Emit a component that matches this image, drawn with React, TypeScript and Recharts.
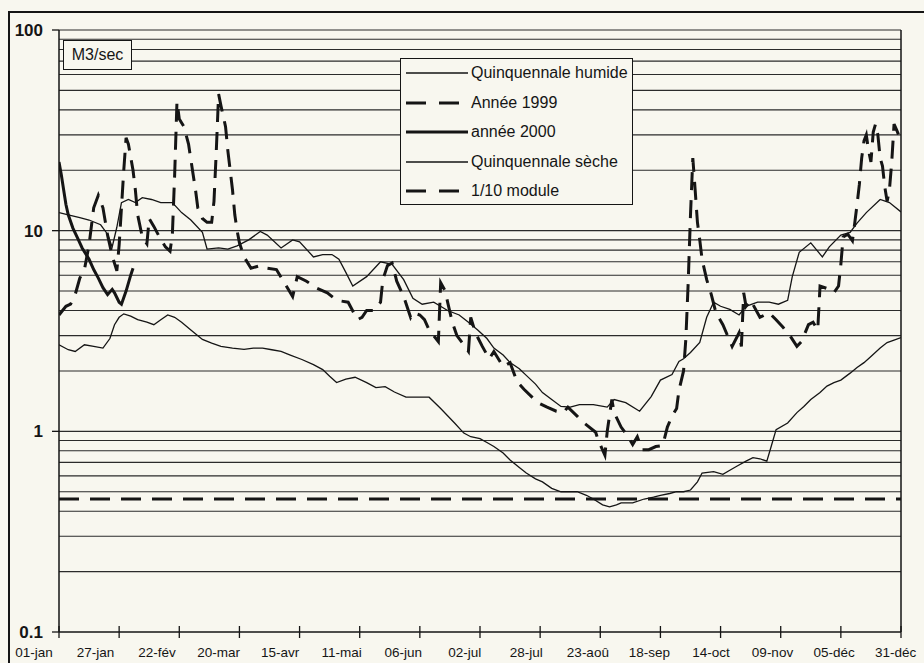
import React from 'react'
import { LineChart, Line, XAxis, YAxis, ReferenceLine } from 'recharts'

// day of year (0 = 01-jan) and discharge in m3/s
const HUMIDE: [number, number][] = [
  [0, 12.3], [4, 12], [9, 11.6], [13, 11.3], [18, 10.7], [21, 9.6], [23, 8.3], [25, 10.4],
  [27, 13.8], [30, 14.3], [33, 13.8], [36, 14.6], [40, 14.3], [44, 13.8], [49, 13.8], [53, 12.3],
  [57, 11.3], [62, 9.8], [64, 8.1], [69, 8.2], [73, 8.1], [77, 8.4], [82, 9.0], [87, 9.9],
  [90, 9.5], [96, 8.2], [101, 9.0], [104, 8.8], [110, 7.4], [114, 7.6], [118, 7.6], [121, 7.2],
  [124, 6.2], [127, 5.3], [133, 5.9], [139, 7.0], [144, 6.8], [149, 5.7], [153, 4.6], [157, 4.3],
  [162, 4.4], [168, 4.0], [173, 3.8], [177, 3.5], [181, 3.2], [185, 2.9], [188, 2.6], [192, 2.4],
  [195, 2.2], [199, 2.05], [202, 1.9], [206, 1.72], [209, 1.56], [213, 1.44], [217, 1.33],
  [221, 1.32], [225, 1.36], [231, 1.36], [237, 1.32], [240, 1.44], [245, 1.39], [251, 1.26],
  [256, 1.49], [260, 1.8], [265, 1.92], [268, 2.23], [270, 2.3], [273, 2.47], [277, 2.77],
  [280, 3.7], [283, 4.4], [286, 4.2], [290, 4.05], [294, 3.8], [297, 4.2], [302, 4.4], [307, 4.4],
  [311, 4.3], [315, 4.5], [317, 5.9], [320, 7.8], [325, 8.7], [330, 7.4], [333, 8.3], [338, 9.5],
  [342, 9.8], [345, 10.9], [349, 12.3], [355, 14.3], [359, 13.8], [364, 12.4],
]

const ANNEE_1999: [number, number][] = [
  [0, 3.8], [3, 4.2], [5, 4.3], [7, 4.8], [9, 5.8], [11, 6.4], [13, 8.5], [15, 13], [17, 15],
  [19, 13], [21, 9.5], [23, 7.5], [25, 6.3], [26, 8.5], [27, 13], [28, 20], [29, 29], [30, 27],
  [32, 20], [33, 16], [34, 12], [36, 9.3], [38, 8.6], [39, 11.5], [41, 10.5], [43, 9.5],
  [46, 8.3], [48, 7.9], [49, 9.5], [50, 19], [51, 44], [52, 36], [54, 33], [56, 27], [58, 19],
  [59, 16], [60, 13], [62, 11.5], [64, 11], [66, 11], [67, 14], [68, 25], [69, 48], [70, 42],
  [72, 33], [73, 25], [75, 16], [76, 12], [77, 10], [78, 8.7], [80, 7.4], [83, 6.5], [87, 6.7],
  [90, 6.5], [94, 6.4], [97, 5.6], [101, 4.7], [103, 5.9], [107, 5.6], [111, 5.2], [116, 4.9],
  [120, 4.5], [125, 4.4], [129, 3.6], [131, 3.7], [133, 4.0], [136, 4.0], [139, 4.4], [140, 5.7],
  [142, 6.7], [144, 6.9], [146, 5.6], [149, 4.7], [152, 3.7], [153, 3.9], [156, 3.8], [158, 3.6],
  [160, 3.2], [164, 2.8], [165, 5.5], [167, 5.0], [168, 4.4], [170, 3.5], [172, 3.0], [175, 2.7],
  [177, 2.5], [178, 3.7], [180, 3.1], [183, 2.65], [186, 2.3], [188, 2.5], [192, 2.1], [195, 2.2],
  [198, 1.77], [201, 1.62], [207, 1.39], [211, 1.32], [215, 1.26], [218, 1.24], [220, 1.32],
  [224, 1.19], [227, 1.1], [232, 0.99], [233, 0.91], [236, 0.76], [237, 1.0], [238, 1.2],
  [239, 1.44], [240, 1.24], [243, 1.05], [246, 0.94], [248, 0.86], [250, 0.94], [252, 0.81],
  [255, 0.81], [258, 0.84], [261, 0.85], [263, 1.05], [265, 1.19], [267, 1.3], [268, 1.6],
  [270, 2.0], [271, 2.9], [272, 5.5], [273, 12], [274, 23], [275, 16], [276, 11], [277, 9],
  [278, 7.2], [280, 5.7], [282, 4.8], [284, 3.9], [287, 3.4], [291, 2.65], [294, 3.1], [295, 2.65],
  [296, 4.9], [297, 4.2], [299, 4.5], [303, 3.7], [307, 3.9], [310, 3.6], [313, 3.3], [316, 3.0],
  [319, 2.65], [321, 2.8], [324, 3.4], [326, 3.5], [328, 3.2], [329, 5.3], [333, 5.1], [335, 4.9],
  [337, 5.3], [338, 6.8], [339, 9.3], [341, 9.6], [343, 8.9], [344, 10.9], [345, 13.5], [346, 17],
  [347, 23], [348, 28], [349, 30], [350, 25], [351, 22], [352, 31], [353, 34], [354, 30], [355, 23],
  [356, 21], [357, 16.5], [358, 14], [359, 16], [360, 22], [361, 34], [362, 32], [364, 28],
]

const ANNEE_2000: [number, number][] = [
  [0, 22], [1, 19], [2, 16], [3, 13.5], [4, 12], [6, 10.3], [8, 9.2], [10, 8.2], [13, 7.2],
  [15, 6.4], [17, 5.8], [19, 5.2], [21, 4.8], [23, 5.1], [24, 4.9], [26, 4.4], [27, 4.3],
  [29, 5.0], [31, 6.0], [32, 6.5],
]

const SECHE: [number, number][] = [
  [0, 2.7], [4, 2.55], [7, 2.5], [11, 2.7], [15, 2.65], [19, 2.6], [22, 2.9], [24, 3.4], [26, 3.7],
  [28, 3.85], [31, 3.75], [34, 3.6], [38, 3.5], [41, 3.4], [44, 3.6], [47, 3.8], [50, 3.7],
  [53, 3.5], [57, 3.2], [62, 2.87], [66, 2.75], [70, 2.65], [75, 2.6], [80, 2.56], [84, 2.6],
  [88, 2.6], [92, 2.55], [96, 2.5], [100, 2.4], [105, 2.28], [110, 2.15], [114, 2.03], [117, 1.88],
  [120, 1.75], [124, 1.82], [128, 1.86], [133, 1.75], [137, 1.65], [141, 1.67], [145, 1.57],
  [150, 1.48], [155, 1.48], [160, 1.48], [165, 1.3], [171, 1.1], [175, 0.98], [178, 0.94],
  [182, 0.92], [185, 0.88], [188, 0.84], [192, 0.78], [195, 0.72], [199, 0.66], [202, 0.62],
  [206, 0.58], [209, 0.56], [213, 0.52], [217, 0.5], [224, 0.5], [228, 0.48], [231, 0.46],
  [235, 0.43], [238, 0.42], [241, 0.43], [243, 0.44], [248, 0.44], [253, 0.46], [257, 0.47],
  [260, 0.48], [264, 0.49], [267, 0.5], [270, 0.5], [273, 0.51], [276, 0.56], [278, 0.62],
  [283, 0.63], [287, 0.61], [290, 0.64], [293, 0.67], [297, 0.71], [300, 0.74], [303, 0.73],
  [306, 0.71], [308, 0.85], [310, 1.02], [315, 1.1], [319, 1.24], [322, 1.33], [325, 1.44],
  [329, 1.56], [332, 1.68], [335, 1.75], [338, 1.8], [342, 1.95], [345, 2.08], [348, 2.2],
  [351, 2.36], [355, 2.6], [358, 2.77], [361, 2.85], [364, 2.93],
]

const MODULE_10: [number, number][] = [[0, 0.46], [364, 0.46]]

const TICK_DAYS = [0, 26, 52, 78, 104, 130, 156, 182, 208, 234, 260, 286, 312, 338, 364]
const X_LABELS = [
  '01-jan', '27-jan', '22-fév', '20-mar', '15-avr', '11-mai', '06-jun', '02-jul',
  '28-jul', '23-aoû', '18-sep', '14-oct', '09-nov', '05-déc', '31-déc',
]
const Y_TICKS = [0.1, 1, 10, 100]
const GRID_VALUES = [
  0.2, 0.3, 0.4, 0.5, 0.6, 0.7, 0.8, 0.9, 1,
  2, 3, 4, 5, 6, 7, 8, 9, 10,
  20, 30, 40, 50, 60, 70, 80, 90, 100,
]

const LEGEND = [
  { label: 'Quinquennale humide', width: 1.3, dash: undefined },
  { label: 'Année 1999', width: 3, dash: '20 13' },
  { label: 'année 2000', width: 3, dash: undefined },
  { label: 'Quinquennale sèche', width: 1.3, dash: undefined },
  { label: '1/10 module', width: 3, dash: '20 13' },
]

const toPoints = (rows: [number, number][]) => rows.map(([day, v]) => ({ day, v }))

const INK = '#151515'
const PAPER = '#f8f7ef'
const FONT = '"Liberation Sans", Arial, sans-serif'
const X_TICK_SIZE = 6
const X_TICK_MARGIN = 2

function XTick(props: any) {
  const { x, y, payload } = props
  const i = TICK_DAYS.indexOf(payload.value)
  const axisY = y - X_TICK_SIZE - X_TICK_MARGIN
  const dx = -25 + i * 1.4
  return (
    <g>
      <line x1={x} x2={x} y1={axisY - 6} y2={axisY + 6} stroke={INK} strokeWidth={1.3} />
      <text x={x + dx} y={axisY + 25} textAnchor="middle" fontSize={13.5} fill={INK} fontFamily={FONT}>
        {X_LABELS[i]}
      </text>
    </g>
  )
}

export default function App() {
  return (
    <div style={{ position: 'fixed', left: 0, top: 0, width: 924, height: 663, background: PAPER, overflow: 'hidden', fontFamily: FONT }}>
      <div style={{ position: 'absolute', left: 8, top: 11, width: 980, height: 720, border: `2px solid ${INK}` }} />
      <LineChart width={924} height={663} margin={{ top: 30, right: 23, bottom: 6, left: 0 }}>
        <XAxis
          type="number"
          dataKey="day"
          domain={[0, 364]}
          ticks={TICK_DAYS}
          interval={0}
          allowDataOverflow
          height={25}
          tickSize={X_TICK_SIZE}
          tickMargin={X_TICK_MARGIN}
          tickLine={false}
          tick={<XTick />}
          axisLine={{ stroke: INK, strokeWidth: 1.5 }}
        />
        <YAxis
          scale="log"
          domain={[0.1, 100]}
          ticks={Y_TICKS}
          interval={0}
          allowDataOverflow
          width={59}
          tickSize={7}
          tickMargin={9}
          tickLine={{ stroke: INK, strokeWidth: 1.3 }}
          axisLine={{ stroke: INK, strokeWidth: 1.5 }}
          tick={{ fontSize: 17, fontWeight: 700, fill: INK, fontFamily: FONT }}
        />
        {GRID_VALUES.map((v) => (
          <ReferenceLine key={v} y={v} stroke="#2b2b2b" strokeWidth={1.1} />
        ))}
        <ReferenceLine x={364} stroke={INK} strokeWidth={1.5} />
        <Line data={toPoints(SECHE)} dataKey="v" type="linear" stroke={INK} strokeWidth={1.3} dot={false} isAnimationActive={false} />
        <Line data={toPoints(HUMIDE)} dataKey="v" type="linear" stroke={INK} strokeWidth={1.3} dot={false} isAnimationActive={false} />
        <Line data={toPoints(ANNEE_2000)} dataKey="v" type="linear" stroke={INK} strokeWidth={3} dot={false} isAnimationActive={false} />
        <Line data={toPoints(ANNEE_1999)} dataKey="v" type="linear" stroke={INK} strokeWidth={3} strokeDasharray="18 10" dot={false} isAnimationActive={false} />
        <Line data={toPoints(MODULE_10)} dataKey="v" type="linear" stroke={INK} strokeWidth={3} strokeDasharray="20 11" dot={false} isAnimationActive={false} />
      </LineChart>
      <div style={{ position: 'absolute', left: 63, top: 40, width: 67, height: 28, border: `1.5px solid ${INK}`, background: PAPER, fontSize: 16, lineHeight: '28px', textAlign: 'center', color: INK }}>
        M3/sec
      </div>
      <div style={{ position: 'absolute', left: 400, top: 58, width: 231, height: 145, border: `1.5px solid ${INK}`, background: PAPER }}>
        {LEGEND.map((item, i) => (
          <div key={item.label} style={{ position: 'absolute', left: 4, top: 14 + i * 29.5 - 10, height: 20, display: 'flex', alignItems: 'center' }}>
            <svg width={64} height={20}>
              <line x1={1} x2={63} y1={10} y2={10} stroke={INK} strokeWidth={item.width} strokeDasharray={item.dash} />
            </svg>
            <span style={{ fontSize: 16, color: INK, marginLeft: 2, whiteSpace: 'nowrap' }}>{item.label}</span>
          </div>
        ))}
      </div>
    </div>
  )
}
